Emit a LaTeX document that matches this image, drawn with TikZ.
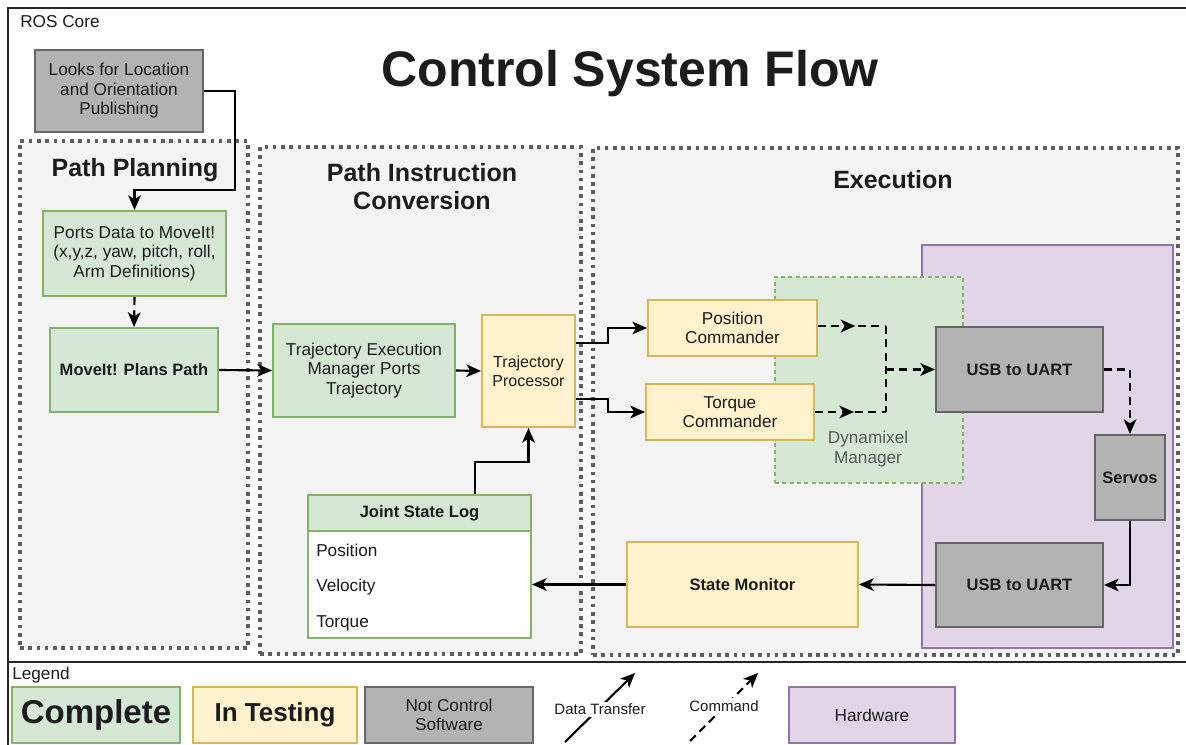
\documentclass[tikz,border=0pt]{standalone}
\usepackage{fontspec}
\setmainfont{Liberation Sans}
\usetikzlibrary{arrows.meta,decorations.markings}
\definecolor{gfill}{HTML}{D5E8D4}\definecolor{gline}{HTML}{82B366}
\definecolor{yfill}{HTML}{FFF2CC}\definecolor{yline}{HTML}{D6B656}
\definecolor{kfill}{HTML}{B3B3B3}\definecolor{kline}{HTML}{666666}
\definecolor{pfill}{HTML}{E1D5E7}\definecolor{pline}{HTML}{9673A6}
\definecolor{cfill}{HTML}{F4F4F4}\definecolor{cline}{HTML}{5E5E5E}
\definecolor{txt}{HTML}{1C1C1C}
\begin{document}
\begin{tikzpicture}[x=0.75pt,y=-0.75pt,
  fn/.style={font=\fontsize{12.9pt}{14.6pt}\selectfont},
  fs/.style={font=\fontsize{12pt}{14.3pt}\selectfont},
  fb/.style={font=\bfseries\fontsize{12.4pt}{14.6pt}\selectfont},
  fh/.style={font=\bfseries\fontsize{18.75pt}{21pt}\selectfont},
  area/.style args={#1/#2/#3/#4}{minimum width={(#3-#1)*0.75pt}, minimum height={(#4-#2)*0.75pt}, at={({(#1+#3)/2},{(#2+#4)/2})}},
  box/.style={draw, line width=1.5pt, inner sep=0pt, align=center, text=txt, anchor=center},
  gbox/.style={box, fill=gfill, draw=gline},
  ybox/.style={box, fill=yfill, draw=yline},
  kbox/.style={box, fill=kfill, draw=kline},
  pbox/.style={box, fill=pfill, draw=pline},
  cont/.style={draw=cline, fill=cfill, line width=2.7pt, dash pattern=on 2.7pt off 3.5pt, inner sep=0pt, anchor=center},
  tip/.style={-{Stealth[length=11pt,width=9.5pt,inset=3pt]}},
  data/.style={line width=1.6pt, draw=black, tip},
  cmdl/.style={line width=1.6pt, draw=black, dash pattern=on 6pt off 4pt},
  cmd/.style={cmdl, tip},
  midtip/.style={postaction={decorate}, decoration={markings, mark=at position #1 with {\arrow{Stealth[length=11pt,width=9.5pt,inset=3pt]}}}},
  lbl/.style={inner sep=0pt, text=txt}
]
\fill[white] (0,0) rectangle (1186,745);
\useasboundingbox (0,0) rectangle (1186,745);

% outer frame
\draw[line width=1.6pt, draw=black!85] (1186,8) -- (8,8) -- (8,745);
\draw[line width=1.6pt, draw=black!85] (8,662) -- (1186,662);
\node[lbl, fn, anchor=west] (ros) at (20,22) {ROS Core};
\node[lbl, font=\bfseries\fontsize{37.5pt}{40pt}\selectfont] (title) at (630,74) {Control System Flow};

% containers
\node[cont, area=20/141/248/648] (pp) {};
\node[cont, area=260/147/581/654] (pic) {};
\node[cont, area=593/148/1178/655] (ex) {};
\node[lbl, fh] (ppt) at (135,170) {Path Planning};
\node[lbl, fh, align=center] (pict) at (422,187) {Path Instruction\\Conversion};
\node[lbl, fh] (ext) at (893,180) {Execution};

% hardware + dynamixel
\node[pbox, area=922/245/1173/648] (hw) {};
\node[box, fill=gfill, draw=gline, line width=0.8pt, dash pattern=on 3pt off 2.5pt, area=775/277/963/483] (dm) {};
\node[lbl, fn, text=black!65, align=center] (dmt) at (868,449) {Dynamixel\\Manager};

% boxes
\node[kbox, fn, area=35/50/203/132] (lk) {Looks for Location\\and Orientation\\Publishing};
\node[gbox, fn, area=43/211/226/296] (pd) {Ports Data to MoveIt!\\(x,y,z, yaw, pitch, roll,\\Arm Definitions)};
\node[gbox, fb, area=50/328/218/412] (mp) {MoveIt! Plans Path};
\node[gbox, fn, area=273/324/455/417] (te) {Trajectory Execution\\Manager Ports\\Trajectory};
\node[ybox, fs, area=482/315/575/427] (tp) {Trajectory\\Processor};
\node[ybox, fn, area=648/300/817/356] (pc) {Position\\Commander};
\node[ybox, fn, area=646/384/814/440] (tc) {Torque\\Commander};
\node[kbox, fb, area=936/327/1103/412] (u1) {USB to UART};
\node[kbox, fb, area=1095/435/1165/520] (sv) {Servos};
\node[kbox, fb, area=936/543/1103/627] (u2) {USB to UART};
\node[ybox, fb, area=627/542/858/627] (sm) {State Monitor};

% joint state log
\node[gbox, fb, area=308/495/531/531] (jslh) {Joint State Log};
\node[box, fill=white, draw=gline, area=308/531/531/638] (jslb) {};
\node[lbl, fn, anchor=west] (jp) at (316,550) {Position};
\node[lbl, fn, anchor=west] (jv) at (316,587) {Velocity};
\node[lbl, fn, anchor=west] (jt) at (316,623) {Torque};

% connectors
\coordinate (g1) at (235,91);
\coordinate (g2) at (235,190);
\draw[data] (lk.east) -- (g1) -- (g2) -| (pd.north);
\draw[cmd] (pd.south) -- (mp.north);
\draw[data] (mp.east) -- (te.west);
\draw[data] (te.east) -- (tp.west);
\coordinate (j1) at (475,462);
\draw[data] (jslh.north -| j1) -- (j1) -| (tp.south);
\coordinate (t1) at (608,343);
\coordinate (t2) at (608,399);
\draw[data] (tp.east |- t1) -- (t1) |- (pc.west);
\draw[data] (tp.east |- t2) -- (t2) |- (tc.west);
\coordinate (d1) at (886,326);
\coordinate (d2) at (886,412);
\coordinate (d3) at (886,369.5);
\draw[cmdl, midtip=0.55] (pc.east |- d1) -- (d1);
\draw[cmdl, midtip=0.55] (tc.east |- d2) -- (d2);
\draw[cmdl] (d1) -- (d2);
\draw[cmd] (d3) -- (u1.west);
\draw[cmd] (u1.east) -| (sv.north);
\draw[data] (sv.south) |- (u2.east);
\draw[data] (u2.west) -- (sm.east);
\draw[data] (sm.west) -- (jslb.east |- sm.west);

% legend
\node[lbl, fn, anchor=west] (leg) at (12,675) {Legend};
\node[gbox, font=\bfseries\fontsize{24.75pt}{26pt}\selectfont, area=12/687/180/743] (lc) {Complete};
\node[ybox, font=\bfseries\fontsize{19.5pt}{22pt}\selectfont, area=193/687/357/743] (lt) {In Testing};
\node[kbox, fn, area=365/687/533/743] (lnc) {Not Control\\Software};
\node[pbox, fn, area=789/687/955/743] (lhw) {Hardware};
\coordinate (dt1) at (565,742);
\coordinate (dt2) at (635,673);
\draw[data] (dt1) -- (dt2);
\node[lbl, font=\fontsize{11.25pt}{13pt}\selectfont, fill=white, inner sep=1.5pt] (dtl) at (600,709) {Data Transfer};
\coordinate (cm1) at (690,741);
\coordinate (cm2) at (758,673);
\draw[cmd] (cm1) -- (cm2);
\node[lbl, font=\fontsize{11.25pt}{13pt}\selectfont, fill=white, inner sep=1.5pt] (cml) at (724,706) {Command};
\end{tikzpicture}
\end{document}
